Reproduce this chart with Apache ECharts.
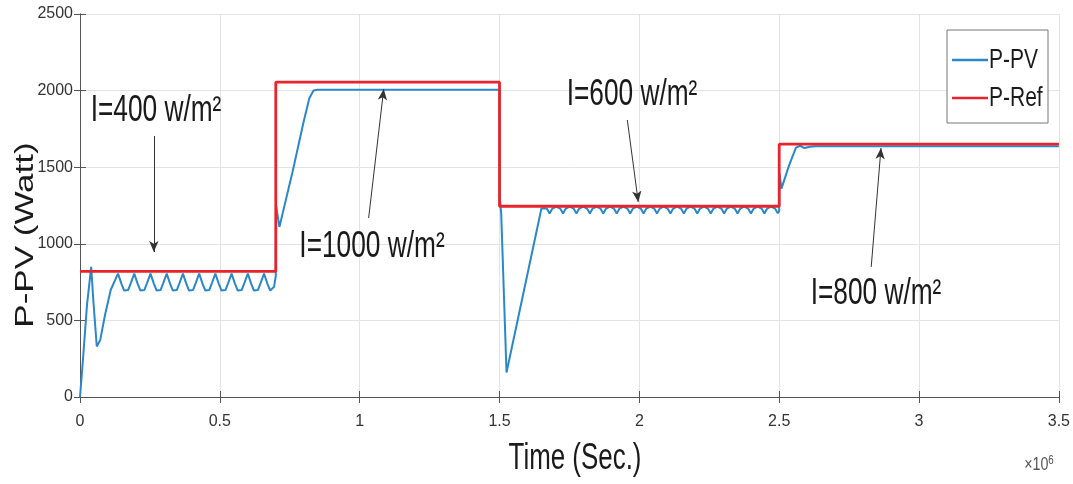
<!DOCTYPE html>
<html lang="en">
<head>
    <meta charset="UTF-8">
    <title>P-PV vs P-Ref</title>
    <script src="https://cdn.jsdelivr.net/npm/echarts@6.0.0/dist/echarts.min.js"></script>
    <style>
        html, body { margin: 0; padding: 0; background: #fff; }
        #main { width: 1073px; height: 484px; }
    </style>
</head>
<body>
<div id="main"></div>
<script>
    // axis ticks (time in units of 1e6)
    var xTicks = [0, 0.5, 1, 1.5, 2, 2.5, 3, 3.5];
    var yTicks = [0, 500, 1000, 1500, 2000, 2500];

    // reference power steps [t, W]
    var pRef = [
        [0, 820], [0.7, 820], [0.7, 2055], [1.5, 2055], [1.5, 1245],
        [2.5, 1245], [2.5, 1650], [3.5, 1650]
    ];

    // PV power, I = 400 w/m2 (start-up + ripple)
    var pvStage1 = [
        [0, 0], [0.01, 230], [0.025, 600], [0.04, 850], [0.048, 620], [0.06, 330], [0.072, 370],
        [0.09, 540], [0.11, 700], [0.136, 805],
        [0.148, 740], [0.158, 695], [0.165, 688], [0.172, 698], [0.182, 745], [0.194, 805],
        [0.206, 740], [0.216, 695], [0.223, 688], [0.230, 698], [0.240, 745], [0.252, 805],
        [0.264, 740], [0.274, 695], [0.281, 688], [0.288, 698], [0.298, 745], [0.310, 805],
        [0.322, 740], [0.332, 695], [0.339, 688], [0.346, 698], [0.356, 745], [0.368, 805],
        [0.380, 740], [0.390, 695], [0.397, 688], [0.404, 698], [0.414, 745], [0.426, 805],
        [0.438, 740], [0.448, 695], [0.455, 688], [0.462, 698], [0.472, 745], [0.484, 805],
        [0.496, 740], [0.506, 695], [0.513, 688], [0.520, 698], [0.530, 745], [0.542, 805],
        [0.554, 740], [0.564, 695], [0.571, 688], [0.578, 698], [0.588, 745], [0.600, 805],
        [0.612, 740], [0.622, 695], [0.629, 688], [0.636, 698], [0.646, 745], [0.658, 805],
        [0.670, 740], [0.680, 695], [0.687, 688], [0.694, 720], [0.700, 790]
    ];

    // I = 1000 w/m2
    var pvStage2 = [
        [0.701, 1250], [0.713, 1110], [0.76, 1470], [0.80, 1800], [0.82, 1950],
        [0.835, 2000], [0.85, 2005], [1.5, 2005]
    ];

    // I = 600 w/m2
    var pvStage3 = [
        [1.501, 1300], [1.506, 1200], [1.525, 160], [1.65, 1232], [1.657, 1243],
        [1.669, 1230], [1.679, 1198], [1.689, 1230], [1.703, 1243],
        [1.717, 1230], [1.727, 1198], [1.737, 1230], [1.751, 1243],
        [1.765, 1230], [1.775, 1198], [1.785, 1230], [1.799, 1243],
        [1.813, 1230], [1.823, 1198], [1.833, 1230], [1.847, 1243],
        [1.861, 1230], [1.871, 1198], [1.881, 1230], [1.895, 1243],
        [1.909, 1230], [1.919, 1198], [1.929, 1230], [1.943, 1243],
        [1.957, 1230], [1.967, 1198], [1.977, 1230], [1.991, 1243],
        [2.005, 1230], [2.015, 1198], [2.025, 1230], [2.039, 1243],
        [2.053, 1230], [2.063, 1198], [2.073, 1230], [2.087, 1243],
        [2.101, 1230], [2.111, 1198], [2.121, 1230], [2.135, 1243],
        [2.149, 1230], [2.159, 1198], [2.169, 1230], [2.183, 1243],
        [2.197, 1230], [2.207, 1198], [2.217, 1230], [2.231, 1243],
        [2.245, 1230], [2.255, 1198], [2.265, 1230], [2.279, 1243],
        [2.293, 1230], [2.303, 1198], [2.313, 1230], [2.327, 1243],
        [2.341, 1230], [2.351, 1198], [2.361, 1230], [2.375, 1243],
        [2.389, 1230], [2.399, 1198], [2.409, 1230], [2.423, 1243],
        [2.437, 1230], [2.447, 1198], [2.457, 1230], [2.471, 1243],
        [2.485, 1230], [2.495, 1200], [2.5, 1215]
    ];

    // I = 800 w/m2
    var pvStage4 = [
        [2.501, 1460], [2.508, 1360], [2.535, 1510], [2.56, 1628], [2.575, 1640],
        [2.59, 1625], [2.61, 1634], [2.63, 1636], [3.5, 1636]
    ];

    var pPV = pvStage1.concat(pvStage2, pvStage3, pvStage4);

    // annotation arrows [from, to] in data units
    var arrows = [
        [[0.264, 1704], [0.264, 946]],
        [[1.032, 1168], [1.086, 2010]],
        [[1.957, 1808], [1.996, 1273]],
        [[2.829, 849], [2.864, 1625]]
    ];
    var notes = ['I=400 w/m²', 'I=1000 w/m²', 'I=600 w/m²', 'I=800 w/m²'];

    var FONT = '"Liberation Sans", Arial, sans-serif';
    var BLUE = '#2b88c8';
    var RED = '#e8232b';

    function squeezedText(x, y, str, size, extra) {
        var el = {
            type: 'text', x: x, y: y, scaleX: 0.73, z: 20,
            style: {
                text: str, font: size + 'px ' + FONT, fill: '#1a1a1a',
                textAlign: 'center', textVerticalAlign: 'middle',
                align: 'center', verticalAlign: 'middle'
            }
        };
        for (var k in extra) el[k] = extra[k];
        return el;
    }

    var axisCommon = {
        type: 'value',
        axisLine: { show: true, lineStyle: { color: '#555', width: 1 } },
        axisTick: { show: true, inside: true, length: 6, lineStyle: { color: '#555' } }
    };

    var chart = echarts.init(document.getElementById('main'));
    chart.setOption({
        animation: false,
        backgroundColor: '#fff',
        grid: { left: 80, right: 14, top: 14, bottom: 87 },
        xAxis: [
            Object.assign({}, axisCommon, {
                min: xTicks[0], max: xTicks[xTicks.length - 1], interval: 0.5,
                axisLabel: { fontSize: 16, color: '#333', margin: 17, fontFamily: FONT },
                splitLine: { show: true, lineStyle: { color: '#e3e3e3' } }
            }),
            Object.assign({}, axisCommon, {
                position: 'top', min: xTicks[0], max: xTicks[xTicks.length - 1], interval: 0.5,
                axisLabel: { show: false }, splitLine: { show: false }
            })
        ],
        yAxis: [
            Object.assign({}, axisCommon, {
                min: yTicks[0], max: yTicks[yTicks.length - 1], interval: 500,
                axisLabel: {
                    fontSize: 16, color: '#333', margin: 7, fontFamily: FONT,
                    formatter: function (v) { return String(v); }
                },
                splitLine: { show: true, lineStyle: { color: '#e3e3e3' } }
            }),
            Object.assign({}, axisCommon, {
                position: 'right', min: yTicks[0], max: yTicks[yTicks.length - 1], interval: 500,
                axisLabel: { show: false }, splitLine: { show: false }
            })
        ],
        series: [
            {
                name: 'P-PV', type: 'line', data: pPV, symbol: 'none',
                lineStyle: { color: BLUE, width: 2 }, itemStyle: { color: BLUE }, z: 2
            },
            {
                name: 'P-Ref', type: 'line', data: pRef, symbol: 'none',
                lineStyle: { color: RED, width: 2.8 }, itemStyle: { color: RED }, z: 3
            },
            {
                name: 'notes', type: 'line', data: [], z: 5,
                markLine: {
                    silent: true, symbol: ['none', 'arrow'], symbolSize: [7, 11],
                    label: { show: false },
                    lineStyle: { color: '#333', width: 1, type: 'solid' },
                    data: arrows.map(function (a) {
                        return [{ coord: a[0] }, { coord: a[1] }];
                    })
                }
            }
        ],
        graphic: [
            squeezedText(156, 111, notes[0], 36),
            squeezedText(372, 247, notes[1], 36),
            squeezedText(632, 95, notes[2], 36),
            squeezedText(876, 294, notes[3], 36),
            squeezedText(575, 459, 'Time (Sec.)', 36, { scaleX: 0.72 }),
            squeezedText(26, 235, 'P-PV (Watt)', 35, { scaleX: 1, scaleY: 0.72, rotation: Math.PI / 2 }),
            {
                type: 'text', x: 1039, y: 465, scaleX: 0.75,
                style: {
                    text: '×10{s|6}', font: '19px ' + FONT, fill: '#555',
                    textAlign: 'center', textVerticalAlign: 'middle',
                    align: 'center', verticalAlign: 'middle',
                    rich: { s: { fontSize: 13, fontFamily: FONT, fill: '#555', verticalAlign: 'top', padding: [0, 0, 10, 0] } }
                }
            },
            // legend box
            {
                type: 'rect', shape: { x: 947, y: 30, width: 101, height: 93 }, z: 15,
                style: { fill: '#fff', stroke: '#777', lineWidth: 1 }
            },
            { type: 'line', shape: { x1: 952, y1: 60, x2: 988, y2: 60 }, z: 16, style: { stroke: BLUE, lineWidth: 2.5 } },
            { type: 'line', shape: { x1: 952, y1: 98, x2: 988, y2: 98 }, z: 16, style: { stroke: RED, lineWidth: 2.5 } },
            {
                type: 'text', x: 989, y: 60, scaleX: 0.75, z: 16,
                style: { text: 'P-PV', font: '28px ' + FONT, fill: '#1a1a1a', textVerticalAlign: 'middle', verticalAlign: 'middle' }
            },
            {
                type: 'text', x: 989, y: 98, scaleX: 0.75, z: 16,
                style: { text: 'P-Ref', font: '28px ' + FONT, fill: '#1a1a1a', textVerticalAlign: 'middle', verticalAlign: 'middle' }
            }
        ]
    });
</script>
</body>
</html>
